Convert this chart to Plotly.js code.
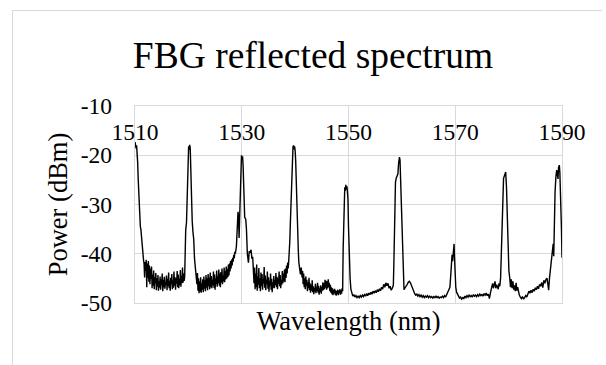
<!DOCTYPE html>
<html>
<head>
<meta charset="utf-8">
<script src="https://cdn.plot.ly/plotly-3.0.1.min.js"></script>
<style>
  html, body { margin: 0; padding: 0; background: #ffffff; }
  #wrap { position: relative; width: 606px; height: 365px; overflow: hidden; }
  #chart { position: absolute; left: 0; top: 0; width: 606px; height: 365px; }
  #frame { position: absolute; left: 12px; top: 10px; width: 589px; height: 400px;
           border-left: 1px solid #d9d9d9; border-top: 1px solid #d9d9d9; pointer-events: none; }
</style>
</head>
<body>
<div id="wrap">
  <div id="chart"></div>
  <div id="frame"></div>
</div>
<script>
// ---- Data ----
const chartTitle = "FBG reflected spectrum";
const xTitle = "Wavelength (nm)";
const yTitle = "Power (dBm)";

const xTickVals = [1510, 1530, 1550, 1570, 1590];
const xTickText = ["1510", "1530", "1550", "1570", "1590"];
const yTickVals = [-50, -40, -30, -20, -10];
const yTickText = ["-50", "-40", "-30", "-20", "-10"];

const wavelengthNm = [
  // 1510 leading edge
  1510.0,1510.1,1510.2,1510.3,1510.4,1510.5,1510.6,1510.7,1510.8,1510.9,
  1511.0,1511.1,1511.2,1511.3,1511.4,1511.5,1511.6,1511.7,1511.8,1511.9,
  // noise 1512-1519.3
  1512.0,1512.1,1512.2,1512.3,1512.4,1512.5,1512.6,1512.7,1512.8,1512.9,
  1513.0,1513.1,1513.2,1513.3,1513.4,1513.5,1513.6,1513.7,1513.8,1513.9,
  1514.0,1514.1,1514.2,1514.3,1514.4,1514.5,1514.6,1514.7,1514.8,1514.9,
  1515.0,1515.1,1515.2,1515.3,1515.4,1515.5,1515.6,1515.7,1515.8,1515.9,
  1516.0,1516.1,1516.2,1516.3,1516.4,1516.5,1516.6,1516.7,1516.8,1516.9,
  1517.0,1517.1,1517.2,1517.3,1517.4,1517.5,1517.6,1517.7,1517.8,1517.9,
  1518.0,1518.1,1518.2,1518.3,1518.4,1518.5,1518.6,1518.7,1518.8,1518.9,
  1519.0,1519.1,1519.2,
  // peak ~1520
  1519.30,1519.40,1519.50,1519.65,1519.80,1519.95,1520.05,1520.15,1520.25,1520.35,
  1520.50,1520.62,1520.72,1520.85,1521.00,1521.15,1521.30,1521.45,
  // noise 1521.6-1528.8
  1521.6,1521.7,1521.8,1521.9,
  1522.0,1522.1,1522.2,1522.3,1522.4,1522.5,1522.6,1522.7,1522.8,1522.9,
  1523.0,1523.1,1523.2,1523.3,1523.4,1523.5,1523.6,1523.7,1523.8,1523.9,
  1524.0,1524.1,1524.2,1524.3,1524.4,1524.5,1524.6,1524.7,1524.8,1524.9,
  1525.0,1525.1,1525.2,1525.3,1525.4,1525.5,1525.6,1525.7,1525.8,1525.9,
  1526.0,1526.1,1526.2,1526.3,1526.4,1526.5,1526.6,1526.7,1526.8,1526.9,
  1527.0,1527.1,1527.2,1527.3,1527.4,1527.5,1527.6,1527.7,1527.8,1527.9,
  1528.0,1528.1,1528.2,1528.3,1528.4,1528.5,1528.6,1528.7,1528.8,
  // peak ~1530
  1529.0,1529.15,1529.3,1529.4,1529.5,1529.6,1529.75,1529.85,1529.95,1530.05,
  1530.15,1530.25,1530.4,1530.55,1530.75,1530.88,1531.05,1531.25,1531.4,1531.55,
  1531.75,1531.9,1532.05,1532.2,
  // noise 1532.3-1538.6
  1532.3,1532.4,1532.5,1532.6,1532.7,1532.8,1532.9,
  1533.0,1533.1,1533.2,1533.3,1533.4,1533.5,1533.6,1533.7,1533.8,1533.9,
  1534.0,1534.1,1534.2,1534.3,1534.4,1534.5,1534.6,1534.7,1534.8,1534.9,
  1535.0,1535.1,1535.2,1535.3,1535.4,1535.5,1535.6,1535.7,1535.8,1535.9,
  1536.0,1536.1,1536.2,1536.3,1536.4,1536.5,1536.6,1536.7,1536.8,1536.9,
  1537.0,1537.1,1537.2,1537.3,1537.4,1537.5,1537.6,1537.7,1537.8,1537.9,
  1538.0,1538.1,1538.2,1538.3,1538.4,1538.5,1538.6,
  // peak ~1540
  1538.7,1538.8,1538.9,1539.0,1539.1,1539.2,1539.3,1539.4,1539.5,1539.6,
  1539.7,1539.8,1539.9,1540.0,1540.1,1540.2,1540.3,1540.4,1540.5,1540.6,
  1540.7,1540.85,1541.0,1541.15,
  // noise 1541.3-1548.9
  1541.3,1541.4,1541.5,1541.6,1541.7,1541.8,1541.9,
  1542.0,1542.1,1542.2,1542.3,1542.4,1542.5,1542.6,1542.7,1542.8,1542.9,
  1543.0,1543.1,1543.2,1543.3,1543.4,1543.5,1543.6,1543.7,1543.8,1543.9,
  1544.0,1544.1,1544.2,1544.3,1544.4,1544.5,1544.6,1544.7,1544.8,1544.9,
  1545.0,1545.1,1545.2,1545.3,1545.4,1545.5,1545.6,1545.7,1545.8,1545.9,
  1546.0,1546.1,1546.2,1546.3,1546.4,1546.5,1546.6,1546.7,1546.8,1546.9,
  1547.0,1547.1,1547.2,1547.3,1547.4,1547.5,1547.6,1547.7,1547.8,1547.9,
  1548.0,1548.1,1548.2,1548.3,1548.4,1548.5,1548.6,1548.7,1548.8,1548.9,
  // peak ~1550
  1549.0,1549.1,1549.2,1549.3,1549.4,1549.5,1549.6,1549.7,1549.8,1549.9,
  1550.0,1550.15,1550.3,1550.45,
  // baseline 1550.6-1558.4
  1550.6,1550.8,1551.0,1551.2,1551.4,1551.6,1551.8,1552.0,1552.2,1552.4,
  1552.6,1552.8,1553.0,1553.2,1553.4,1553.6,1553.8,1554.0,1554.2,1554.4,
  1554.6,1554.8,1555.0,1555.2,1555.4,1555.6,1555.8,1556.0,1556.2,1556.4,
  1556.6,1556.8,1557.0,1557.2,1557.4,1557.6,1557.8,1558.0,1558.2,1558.4,
  // peak ~1560
  1558.5,1558.6,1558.7,1558.8,1558.95,1559.1,1559.25,1559.4,1559.55,1559.65,
  1559.75,1559.85,1559.95,1560.1,1560.25,1560.4,
  // baseline 1560.6-1569 and small peak ~1570
  1560.6,1560.8,1561.0,1561.2,1561.4,1561.6,1561.8,1562.0,1562.2,1562.4,
  1562.6,1562.8,1563.0,1563.2,1563.4,1563.6,1563.8,1564.0,1564.2,1564.4,
  1564.6,1564.8,1565.0,1565.2,1565.4,1565.6,1565.8,1566.0,1566.2,1566.4,
  1566.6,1566.8,1567.0,1567.2,1567.4,1567.6,1567.8,1568.0,1568.2,1568.4,
  1568.6,1568.8,1569.0,1569.15,1569.3,1569.4,1569.5,1569.6,1569.7,1569.78,
  1569.85,1569.95,1570.1,1570.25,
  // baseline 1570.4-1578.5
  1570.4,1570.6,1570.8,1571.0,1571.2,1571.4,1571.6,1571.8,1572.0,1572.2,
  1572.4,1572.6,1572.8,1573.0,1573.2,1573.4,1573.6,1573.8,1574.0,1574.2,
  1574.4,1574.6,1574.8,1575.0,1575.2,1575.4,1575.6,1575.8,1576.0,1576.2,
  1576.4,1576.6,1576.8,1577.0,1577.15,1577.3,1577.45,1577.6,1577.75,1577.9,
  1578.05,1578.2,1578.35,1578.5,
  // peak ~1580
  1578.65,1578.8,1578.95,1579.05,1579.2,1579.35,1579.45,1579.6,1579.75,1579.9,
  1580.05,1580.2,1580.35,1580.5,1580.65,1580.8,1580.95,1581.1,1581.25,1581.4,
  1581.55,1581.7,1581.85,
  // baseline 1582-1587.8
  1582.0,1582.2,1582.4,1582.6,1582.8,1583.0,1583.2,1583.4,1583.6,1583.8,
  1584.0,1584.2,1584.4,1584.6,1584.8,1585.0,1585.2,1585.4,1585.6,1585.8,
  1586.0,1586.2,1586.4,1586.6,1586.8,1587.0,1587.2,1587.35,1587.5,1587.65,
  // peak ~1589.5
  1587.8,1587.95,1588.1,1588.25,1588.35,1588.45,1588.55,1588.7,1588.85,1589.0,
  1589.1,1589.25,1589.35,1589.5,1589.6,1589.75,1589.9,1590.0
];

const powerDbm = [
  // 1510 leading edge
  -17.3,-17.8,-18.6,-18.0,-19.2,-21.5,-24.8,-28.5,-31.5,-33.6,
  -34.5,-35.0,-36.5,-38.2,-39.4,-40.0,-41.3,-42.0,-44.8,-41.7,
  // noise 1512-1519.2
  -43.5,-41.2,-46.8,-42.0,-44.9,-41.5,-45.7,-42.4,-46.2,-43.0,
  -45.1,-42.6,-47.0,-44.2,-46.5,-43.4,-47.2,-44.8,-46.0,-43.9,
  -47.4,-45.0,-46.7,-44.3,-47.5,-45.6,-46.9,-44.6,-47.3,-45.2,
  -46.4,-44.0,-47.6,-45.3,-46.8,-44.7,-47.1,-45.8,-46.3,-44.4,
  -47.4,-45.1,-46.6,-43.8,-47.0,-45.5,-47.5,-44.9,-46.2,-44.1,
  -47.2,-45.4,-46.9,-43.6,-46.5,-44.8,-47.3,-45.0,-46.1,-43.5,
  -46.8,-44.2,-47.0,-45.1,-46.4,-43.3,-46.7,-44.5,-46.0,-42.8,
  -45.9,-44.0,-45.5,
  // peak ~1520
  -44.8,-38.0,-35.2,-33.6,-27.0,-19.5,-18.2,-18.9,-17.9,-18.6,
  -24.0,-32.5,-33.4,-35.5,-37.0,-41.0,-42.5,-44.6,
  // noise 1521.6-1528.8
  -46.2,-43.9,-47.5,-45.0,
  -48.0,-45.6,-47.7,-44.8,-47.9,-46.0,-47.3,-45.2,-47.8,-44.6,
  -47.1,-45.4,-47.6,-44.3,-46.9,-45.0,-47.4,-44.1,-46.6,-44.9,
  -47.2,-43.8,-46.8,-44.5,-47.0,-45.3,-46.4,-43.6,-46.9,-44.2,
  -47.3,-45.0,-46.2,-43.4,-46.7,-44.6,-46.0,-43.2,-46.5,-44.0,
  -46.8,-43.7,-45.9,-43.0,-46.2,-44.4,-45.6,-42.8,-45.8,-43.5,
  -45.2,-42.6,-45.0,-43.1,-44.7,-42.2,-44.4,-42.0,-43.6,-41.5,
  -43.0,-41.2,-42.4,-40.8,-41.6,-40.2,-40.9,-39.6,-40.0,
  // peak ~1530
  -38.5,-34.0,-31.5,-32.5,-36.8,-33.0,-24.0,-20.8,-20.0,-21.0,
  -20.2,-22.0,-31.5,-32.6,-33.0,-35.0,-40.0,-41.8,-39.5,-39.8,
  -39.2,-41.0,-40.6,-43.5,
  // noise 1532.3-1538.6
  -46.0,-42.8,-47.2,-44.0,-46.8,-42.2,-47.5,
  -44.6,-46.3,-42.9,-47.0,-45.0,-47.6,-43.8,-46.6,-44.1,-47.3,
  -45.2,-46.0,-42.7,-46.9,-44.4,-47.4,-45.3,-46.2,-43.6,-47.1,
  -44.8,-47.7,-45.5,-46.5,-44.0,-47.3,-45.1,-47.8,-45.8,-46.9,
  -44.5,-47.0,-45.3,-46.4,-43.9,-46.8,-44.7,-47.2,-45.0,-46.1,
  -43.6,-46.6,-44.3,-47.0,-45.4,-46.3,-43.5,-46.0,-44.0,-45.6,
  -43.2,-45.8,-43.0,-44.9,-42.4,-44.0,-41.8,
  // peak ~1540
  -43.0,-41.5,-40.0,-37.5,-34.0,-30.0,-25.5,-21.5,-19.2,-18.3,
  -18.0,-18.8,-18.2,-19.0,-21.0,-25.5,-31.0,-34.5,-37.0,-39.5,
  -41.8,-43.0,-44.2,-42.8,
  // noise 1541.3-1548.9
  -44.8,-43.5,-46.2,-44.0,-46.8,-45.0,-47.2,
  -44.6,-46.5,-45.3,-47.6,-45.8,-47.0,-44.9,-47.4,-46.0,-47.9,
  -46.3,-47.5,-45.4,-47.8,-46.6,-48.2,-46.9,-47.7,-46.1,-48.0,
  -46.8,-47.6,-45.9,-47.9,-46.5,-48.3,-47.0,-47.8,-46.4,-48.1,
  -46.7,-47.5,-45.8,-47.4,-46.0,-47.2,-45.3,-46.9,-45.5,-47.3,
  -45.6,-47.0,-45.2,-46.8,-45.9,-47.6,-46.3,-47.9,-46.8,-48.2,
  -47.0,-48.4,-47.3,-48.0,-47.1,-48.3,-47.4,-48.5,-47.6,-48.2,
  -47.3,-48.4,-47.5,-48.0,-47.2,-48.3,-47.4,-48.1,-47.0,-47.6,
  // peak ~1550
  -39.0,-33.5,-28.5,-26.5,-27.2,-26.0,-27.0,-26.3,-27.4,-29.0,
  -34.5,-41.0,-45.0,-47.2,
  // baseline 1550.6-1558.4
  -48.0,-48.6,-48.3,-48.8,-48.5,-48.9,-48.6,-48.9,-48.5,-48.8,
  -48.4,-48.7,-48.3,-48.6,-48.1,-48.5,-48.0,-48.3,-47.8,-48.2,
  -47.6,-48.0,-47.5,-47.9,-47.3,-47.7,-47.1,-47.5,-46.8,-47.2,
  -46.2,-46.8,-45.9,-46.5,-46.0,-47.0,-46.6,-47.4,-47.0,-46.4,
  // peak ~1560
  -42.0,-35.0,-29.0,-25.5,-24.6,-24.3,-23.8,-21.5,-20.4,-21.0,
  -24.5,-29.5,-36.0,-41.5,-45.5,-47.3,
  // baseline 1560.6-1569 and small peak ~1570
  -46.9,-46.4,-46.2,-45.8,-45.6,-45.9,-46.5,-47.3,-47.9,-48.1,
  -48.4,-48.2,-48.6,-48.3,-48.7,-48.4,-48.8,-48.5,-48.9,-48.6,
  -48.8,-48.5,-48.9,-48.6,-48.9,-48.7,-49.0,-48.7,-48.9,-48.6,
  -48.9,-48.7,-49.0,-48.8,-48.9,-48.6,-48.9,-48.5,-48.8,-48.3,
  -48.0,-47.6,-46.8,-44.5,-40.8,-40.2,-41.5,-40.0,-38.2,-38.0,
  -40.5,-44.5,-46.8,-47.8,
  // baseline 1570.4-1578.5
  -48.2,-48.7,-49.0,-48.8,-49.2,-48.9,-49.1,-48.6,-48.9,-48.5,
  -48.8,-48.4,-48.7,-48.5,-48.8,-48.3,-48.6,-48.4,-48.7,-48.3,
  -48.6,-48.2,-48.5,-48.3,-48.6,-48.1,-48.4,-48.0,-48.5,-48.2,
  -49.1,-47.9,-47.2,-46.0,-47.0,-46.4,-45.6,-47.0,-46.3,-46.7,
  -47.2,-46.0,-46.6,-44.8,
  // peak ~1580
  -38.0,-31.0,-26.0,-24.7,-24.2,-23.6,-23.4,-26.5,-33.0,-39.5,
  -43.5,-44.8,-46.8,-45.2,-47.0,-45.6,-47.3,-46.4,-47.6,-45.9,
  -47.5,-46.8,-48.0,
  // baseline 1582-1587.65
  -48.4,-48.8,-49.1,-48.7,-49.2,-48.9,-48.5,-48.8,-48.2,-47.6,
  -48.0,-47.4,-47.9,-47.2,-47.6,-46.9,-47.3,-46.6,-47.1,-46.2,
  -46.6,-45.8,-46.9,-45.4,-46.0,-45.2,-45.0,-46.3,-47.4,-45.0,
  // peak ~1589.5
  -43.2,-42.0,-40.8,-38.5,-38.0,-40.5,-33.0,-27.5,-24.5,-23.0,
  -23.6,-24.8,-22.5,-22.0,-23.5,-28.0,-35.0,-40.8
];

// ---- Chart ----
const serif = "Liberation Serif";
const gridColor = "#d9d9d9";

const trace = {
  type: "scatter",
  mode: "lines",
  x: wavelengthNm,
  y: powerDbm,
  line: { color: "#000000", width: 1.4 },
  hoverinfo: "skip",
  showlegend: false
};

const layout = {
  width: 606,
  height: 365,
  margin: { l: 135, r: 44, t: 106, b: 62, pad: 0 },
  paper_bgcolor: "#ffffff",
  plot_bgcolor: "#ffffff",
  font: { family: serif, color: "#000000" },
  showlegend: false,
  title: {
    text: chartTitle,
    font: { family: serif, size: 37.5, color: "#000000" },
    x: 0.5165, xref: "container", xanchor: "center",
    y: 0.85, yref: "container", yanchor: "middle"
  },
  xaxis: {
    range: [1510, 1590],
    side: "top",
    tickmode: "array",
    tickvals: xTickVals,
    ticktext: xTickText,
    ticks: "",
    ticklabelposition: "inside",
    ticklabeloverflow: "allow",
    ticklabelstandoff: 19,
    tickfont: { family: serif, size: 23.5, color: "#000000" },
    showgrid: true,
    gridcolor: gridColor,
    gridwidth: 1.3,
    showline: true,
    mirror: true,
    linecolor: gridColor,
    linewidth: 1.3,
    zeroline: false,
    fixedrange: true,
    title: { text: "", font: { size: 1 } }
  },
  xaxis2: {
    overlaying: "x",
    range: [1510, 1590],
    side: "bottom",
    showticklabels: false,
    showgrid: false,
    showline: false,
    zeroline: false,
    ticks: "",
    title: { text: xTitle, font: { family: serif, size: 26.5, color: "#000000" }, standoff: 8 }
  },
  yaxis: {
    range: [-50, -10],
    tickmode: "array",
    tickvals: yTickVals,
    ticktext: yTickText,
    ticks: "",
    ticklabelstandoff: 17,
    tickfont: { family: serif, size: 23.5, color: "#000000" },
    showgrid: true,
    gridcolor: gridColor,
    gridwidth: 1.3,
    showline: true,
    mirror: true,
    linecolor: gridColor,
    linewidth: 1.3,
    zeroline: false,
    fixedrange: true,
    title: { text: yTitle, font: { family: serif, size: 26.5, color: "#000000" }, standoff: 5 }
  }
};

const ghost = { type: "scatter", mode: "lines", x: [1510, 1590], y: [-60, -60], xaxis: "x2",
  line: { color: "rgba(0,0,0,0)" }, hoverinfo: "skip", showlegend: false };

Plotly.newPlot("chart", [trace, ghost], layout, { staticPlot: true, displayModeBar: false });
</script>
</body>
</html>
